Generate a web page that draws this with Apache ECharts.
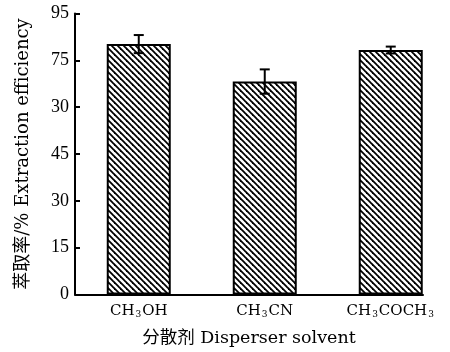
<!DOCTYPE html>
<html>
<head>
<meta charset="utf-8">
<script src="https://cdn.jsdelivr.net/npm/echarts@6/dist/echarts.min.js"></script>
<style>html,body{margin:0;padding:0;background:#fff}#c{width:450px;height:352px}</style>
</head>
<body>
<div id="c"></div>
<script>
const categories = ['CH3OH', 'CH3CN', 'CH3COCH3'];
const efficiency = [80.2, 68.2, 78.3];
const errors = [2.9, 3.9, 1.1];
const yTickLabels = ['0', '15', '30', '45', '30', '75', '95'];
const yAxisName = '萃取率/% Extraction efficiency';
const xAxisName = '分散剂 Disperser solvent';

const FONT = '"Liberation Serif", "Noto Sans CJK SC", serif';
const WIDE = '"DejaVu Serif", "Noto Sans CJK SC", serif';

// hatch pattern
const P = 6;
const tile = document.createElement('canvas');
tile.width = P; tile.height = P;
const tc = tile.getContext('2d');
tc.fillStyle = '#fff'; tc.fillRect(0, 0, P, P);
tc.strokeStyle = '#000'; tc.lineWidth = 1.8;
for (let k = -1; k <= 1; k++) {
  tc.beginPath(); tc.moveTo(k * P - 1, -1); tc.lineTo(k * P + P + 1, P + 1); tc.stroke();
}

const positions = categories.map((c, i) => i + 1);
const barData = positions.map((p, i) => [p, efficiency[i]]);
const errData = positions.map((p, i) => [p, efficiency[i], efficiency[i] - errors[i], efficiency[i] + errors[i]]);

function catLabel(v) {
  const name = categories[Math.round(v) - 1] || '';
  return '{n|' + name.replace(/(\d+)/g, '}{s|$1}{n|') + '}';
}

const chart = echarts.init(document.getElementById('c'), null, {renderer: 'canvas'});
chart.setOption({
  animation: false,
  backgroundColor: '#fff',
  grid: {left: 75, right: 27, top: 13.5, bottom: 57.5, containLabel: false},
  xAxis: {
    type: 'value', min: 0.494, max: 3.256,
    name: xAxisName, nameLocation: 'middle', nameGap: 35,
    nameTextStyle: {fontFamily: WIDE, fontSize: 17.5, color: '#000'},
    axisLine: {show: true, lineStyle: {color: '#000', width: 2}},
    axisTick: {show: false},
    splitLine: {show: false},
    axisLabel: {
      customValues: positions, margin: 8, color: '#000',
      formatter: catLabel,
      rich: {
        n: {fontFamily: WIDE, fontSize: 15, color: '#000'},
        s: {fontFamily: WIDE, fontSize: 9, color: '#000', padding: [8, 1, 0, 1]}
      }
    }
  },
  yAxis: {
    type: 'value', min: 0, max: 90, interval: 15,
    name: yAxisName, nameLocation: 'middle', nameGap: 43,
    nameTextStyle: {fontFamily: WIDE, fontSize: 18, color: '#000'},
    axisLine: {show: true, lineStyle: {color: '#000', width: 2}},
    axisTick: {show: true, inside: true, length: 5, lineStyle: {color: '#000', width: 2}},
    splitLine: {show: false},
    axisLabel: {
      fontFamily: FONT, fontSize: 18, color: '#000', margin: 6,
      formatter: v => yTickLabels[Math.round(v / 15)]
    }
  },
  series: [
    {
      type: 'bar', data: barData, barWidth: 64,
      itemStyle: {color: {image: tile, repeat: 'repeat'}, borderColor: '#000', borderWidth: 2}
    },
    {
      type: 'custom', data: errData, z: 5,
      renderItem: function (params, api) {
        const x = api.value(0);
        const lo = api.coord([x, api.value(2)]);
        const hi = api.coord([x, api.value(3)]);
        const w = 5;
        const st = {stroke: '#000', lineWidth: 2};
        return {
          type: 'group',
          children: [
            {type: 'line', shape: {x1: lo[0], y1: lo[1], x2: hi[0], y2: hi[1]}, style: st},
            {type: 'line', shape: {x1: hi[0] - w, y1: hi[1], x2: hi[0] + w, y2: hi[1]}, style: st},
            {type: 'line', shape: {x1: lo[0] - w, y1: lo[1], x2: lo[0] + w, y2: lo[1]}, style: st}
          ]
        };
      }
    }
  ]
});
</script>
</body>
</html>
